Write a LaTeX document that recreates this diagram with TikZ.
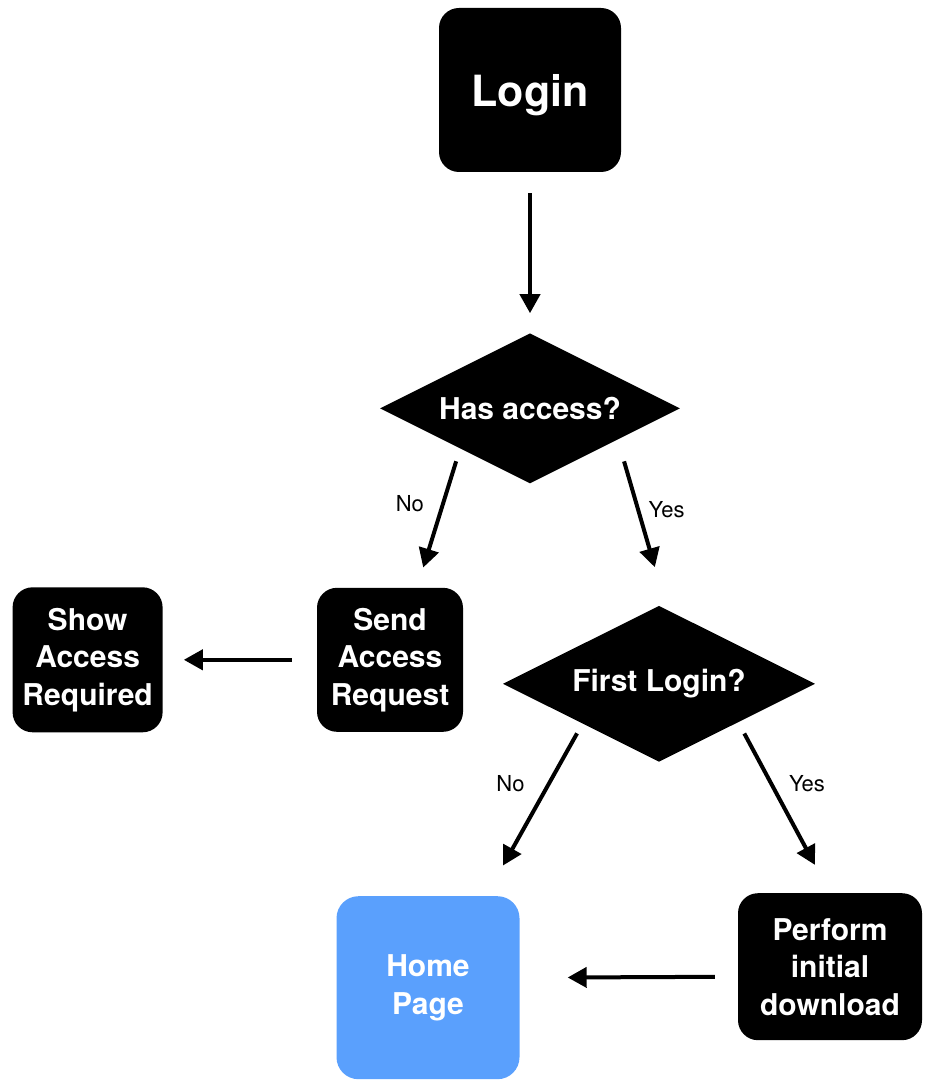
\documentclass[tikz,border=0pt]{standalone}
\usepackage{fontspec}
\setmainfont{TeX Gyre Heros}
\usepackage{tikz}
\usetikzlibrary{positioning,shapes.geometric,arrows.meta}
\definecolor{homeblue}{RGB}{90,160,253}

\begin{document}
\begin{tikzpicture}[x=1pt,y=-1pt,
		p/.style={rectangle,fill=black,text=white,rounded corners=20pt,inner sep=0pt,align=center,font=\fontsize{30}{37.5}\selectfont\bfseries},
		d/.style={diamond,aspect=2,fill=black,text=white,inner sep=0pt,font=\fontsize{30}{36}\selectfont\bfseries},
		t/.style={inner sep=0pt,font=\fontsize{22}{26}\selectfont},
		a/.style={draw,line width=4pt,-{Triangle[width=20pt,length=19pt]}}
		]
		
		\useasboundingbox (0,0) rectangle (931,1086);
		
		\node [p,minimum width=182pt,minimum height=164pt,text depth=0pt,font=\fontsize{43}{50}\selectfont\bfseries] (login) at (530,90) {Login};
		\node [d,minimum width=300pt,minimum height=150pt,below=161pt of login] (access) {Has access?};
		\node [p,minimum width=146pt,minimum height=144pt,below=104pt of access,xshift=-140pt] (send) {Send\\Access\\Request};
		\node [p,minimum width=150pt,minimum height=145pt,left=154pt of send] (show) {Show\\Access\\Required};
		\node [d,minimum width=312pt,minimum height=156pt,below=122pt of access,xshift=129pt] (first) {First Login?};
		\node [p,fill=homeblue,rounded corners=22pt,minimum width=183pt,minimum height=183pt,below=134pt of first,xshift=-231pt] (home) {Home\\Page};
		\node [p,minimum width=184pt,minimum height=147pt,below=131pt of first,xshift=171pt] (perform) {Perform\\initial\\download};
		
		\path [a,shorten <=21pt,shorten >=20pt] (login.south) -- (access.north);
		\path [a,shorten <=16pt,shorten >=21pt] ([xshift=6pt]access.south west) -- node [t,pos=0.41,left=17pt] {No} ([xshift=27pt]send.north);
		\path [a,shorten <=16pt,shorten >=40pt] ([xshift=14.5pt]access.south east) -- node [t,pos=0.4,right=8.5pt] {Yes} ([xshift=7pt]first.north);
		\path [a,shorten <=25pt,shorten >=21pt] (send.west) -- (show.east);
		\path [a,shorten <=12pt,shorten >=35pt] ([xshift=2pt]first.south west) -- node [t,pos=0.35,left=22.5pt] {No} ([xshift=58pt]home.north);
		\path [a,shorten <=12pt,shorten >=32pt] ([xshift=1.5pt]first.south east) -- node [t,pos=0.36,right=15.5pt] {Yes} (perform.north);
		\path [a,shorten <=23pt,shorten >=48pt] ([yshift=-10pt]perform.west) -- ([yshift=10pt]home.east);
		
	\end{tikzpicture}
\end{document}
